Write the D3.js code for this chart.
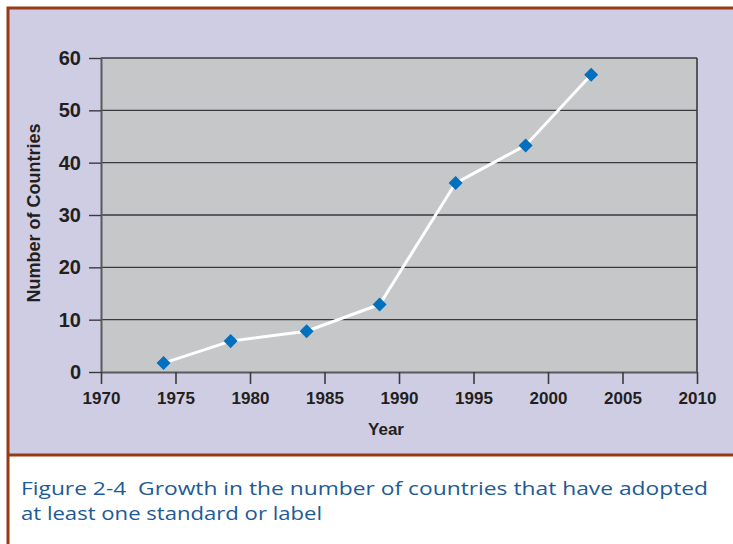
<!DOCTYPE html>
<html>
<head>
<meta charset="utf-8">
<script src="https://cdn.jsdelivr.net/npm/d3@7"></script>
<style>
  body { margin: 0; background: #ffffff; }
  svg { display: block; }
</style>
</head>
<body>
<div id="chart"></div>
<script>
// data
var years = [1974.2, 1978.7, 1983.8, 1988.7, 1993.8, 1998.5, 2002.9];
var countries = [1.7, 5.9, 7.8, 12.9, 36.1, 43.3, 56.8];
var xTicks = [1970, 1975, 1980, 1985, 1990, 1995, 2000, 2005, 2010];
var yTicks = [0, 10, 20, 30, 40, 50, 60];
var captionLines = [
  "Figure 2-4  Growth in the number of countries that have adopted",
  "at least one standard or label"
];
var captionWidths = [687, 301];

var W = 733, H = 544;
var plot = { left: 101, right: 697, top: 58, bottom: 372 };

var svg = d3.select("#chart")
  .append("svg")
  .attr("width", W)
  .attr("height", H);

// purple panel + brown frame
svg.append("rect")
  .attr("x", 8).attr("y", 8)
  .attr("width", W).attr("height", 447)
  .attr("fill", "#cfcde4");
svg.append("path")
  .attr("d", "M8,544 V8 H" + (W + 2))
  .attr("fill", "none")
  .attr("stroke", "#993a17")
  .attr("stroke-width", 3);
svg.append("line")
  .attr("x1", 8).attr("x2", W + 2)
  .attr("y1", 455).attr("y2", 455)
  .attr("stroke", "#993a17")
  .attr("stroke-width", 3);

var x = d3.scaleLinear().domain([1970, 2010]).range([plot.left, plot.right]);
var y = d3.scaleLinear().domain([0, 60]).range([plot.bottom, plot.top]);

// plot background
svg.append("rect")
  .attr("x", x(1970)).attr("y", y(60))
  .attr("width", x(2010) - x(1970))
  .attr("height", y(0) - y(60))
  .attr("fill", "#c6c7c9");

// gridlines
svg.append("g")
  .selectAll("line")
  .data(yTicks.filter(function (d) { return d > 0; }))
  .enter()
  .append("line")
  .attr("x1", x(1970)).attr("x2", x(2010))
  .attr("y1", function (d) { return y(d); })
  .attr("y2", function (d) { return y(d); })
  .attr("stroke", "#3a3a3e")
  .attr("stroke-width", 1.4);

// right border
svg.append("line")
  .attr("x1", x(2010)).attr("x2", x(2010))
  .attr("y1", y(60)).attr("y2", y(0))
  .attr("stroke", "#3a3a3e")
  .attr("stroke-width", 1.6);

// axes
var yAxis = svg.append("g")
  .attr("transform", "translate(" + plot.left + ",0)")
  .call(d3.axisLeft(y).tickValues(yTicks).tickSizeInner(12).tickSizeOuter(0).tickPadding(8));
var xAxis = svg.append("g")
  .attr("transform", "translate(0," + plot.bottom + ")")
  .call(d3.axisBottom(x).tickValues(xTicks).tickFormat(d3.format("d")).tickSizeInner(12).tickSizeOuter(0).tickPadding(8));

yAxis.select(".domain").attr("stroke", "#5a5a5e").attr("stroke-width", 2);
xAxis.select(".domain").attr("stroke", "#5a5a5e").attr("stroke-width", 2);
yAxis.selectAll(".tick line").attr("stroke", "#3a3a3e").attr("stroke-width", 1.4);
xAxis.selectAll(".tick line").attr("stroke", "#3a3a3e").attr("stroke-width", 1.6);

yAxis.selectAll("text")
  .attr("fill", "#231f20")
  .style("font-family", "'Liberation Sans', Arial, sans-serif")
  .style("font-weight", "bold")
  .style("font-size", "20px");
xAxis.selectAll("text")
  .attr("fill", "#231f20")
  .style("font-family", "'Liberation Sans', Arial, sans-serif")
  .style("font-weight", "bold")
  .style("font-size", "17px");

// axis titles
svg.append("text")
  .attr("transform", "translate(40,213) rotate(-90)")
  .attr("text-anchor", "middle")
  .attr("fill", "#231f20")
  .style("font-family", "'Liberation Sans', Arial, sans-serif")
  .style("font-weight", "bold")
  .style("font-size", "18px")
  .text("Number of Countries");

svg.append("text")
  .attr("x", 386).attr("y", 435)
  .attr("text-anchor", "middle")
  .attr("fill", "#231f20")
  .style("font-family", "'Liberation Sans', Arial, sans-serif")
  .style("font-weight", "bold")
  .style("font-size", "17px")
  .text("Year");

// series
var data = years.map(function (d, i) { return { year: d, value: countries[i] }; });

var valueline = d3.line()
  .x(function (d) { return x(d.year); })
  .y(function (d) { return y(d.value); });

svg.append("path")
  .datum(data)
  .attr("d", valueline)
  .attr("fill", "none")
  .attr("stroke", "#ffffff")
  .attr("stroke-width", 3);

svg.selectAll(".pt")
  .data(data)
  .enter()
  .append("path")
  .attr("class", "pt")
  .attr("d", d3.symbol().type(d3.symbolDiamond2).size(125))
  .attr("transform", function (d) { return "translate(" + x(d.year) + "," + y(d.value) + ")"; })
  .attr("fill", "#0070bf");

// caption
svg.append("g")
  .selectAll("text")
  .data(captionLines)
  .enter()
  .append("text")
  .attr("x", 21)
  .attr("y", function (d, i) { return 495 + i * 25; })
  .attr("textLength", function (d, i) { return captionWidths[i]; })
  .attr("lengthAdjust", "spacingAndGlyphs")
  .attr("fill", "#1d5a98")
  .style("white-space", "pre")
  .style("font-family", "'Open Sans', sans-serif")
  .style("font-size", "18px")
  .text(function (d) { return d; });
</script>
</body>
</html>
